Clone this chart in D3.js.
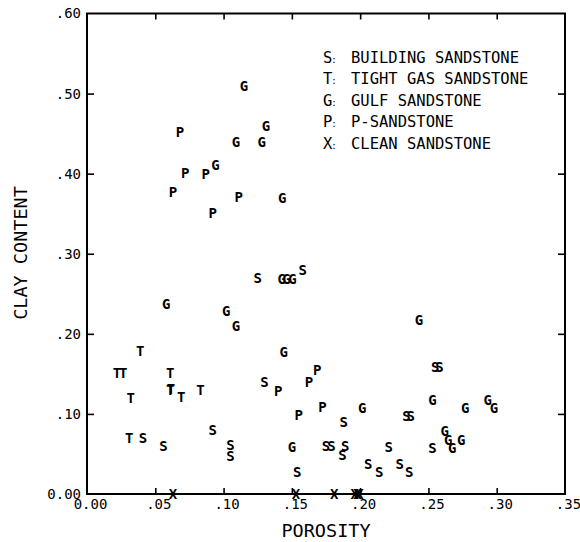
<!DOCTYPE html>
<html>
<head>
<meta charset="utf-8">
<script src="https://cdn.jsdelivr.net/npm/d3@7/dist/d3.min.js"></script>
<style>
  html, body { margin: 0; padding: 0; background: #fff; }
  svg { display: block; }
  text { font-family: "DejaVu Sans Mono", monospace; fill: #000; }
</style>
</head>
<body>
<svg id="chart" width="580" height="542"></svg>
<script>
// ---- Data (porosity, clay content) ----
const buildingSandstone = [
  [0.125, 0.270], [0.158, 0.280], [0.130, 0.140], [0.188, 0.090],
  [0.255, 0.159], [0.258, 0.159], [0.234, 0.098], [0.237, 0.098],
  [0.041, 0.070], [0.056, 0.060], [0.092, 0.080], [0.105, 0.061],
  [0.105, 0.048], [0.175, 0.060], [0.179, 0.060], [0.189, 0.060],
  [0.187, 0.049], [0.154, 0.028], [0.206, 0.038], [0.214, 0.028],
  [0.221, 0.059], [0.229, 0.038], [0.236, 0.027], [0.253, 0.058]
];
const tightGasSandstone = [
  [0.039, 0.179], [0.022, 0.151], [0.0265, 0.151], [0.061, 0.151],
  [0.061, 0.130], [0.0615, 0.131], [0.069, 0.121], [0.032, 0.120],
  [0.083, 0.130], [0.031, 0.070]
];
const gulfSandstone = [
  [0.115, 0.510], [0.131, 0.460], [0.109, 0.440], [0.128, 0.440],
  [0.094, 0.411], [0.143, 0.370], [0.1425, 0.268], [0.146, 0.268],
  [0.1505, 0.268], [0.058, 0.238], [0.102, 0.229], [0.109, 0.210],
  [0.144, 0.178], [0.243, 0.218], [0.2015, 0.108], [0.253, 0.118],
  [0.277, 0.107], [0.2935, 0.118], [0.298, 0.107], [0.262, 0.079],
  [0.2645, 0.068], [0.2675, 0.058], [0.274, 0.068], [0.150, 0.059]
];
const pSandstone = [
  [0.068, 0.452], [0.072, 0.401], [0.063, 0.377], [0.087, 0.400],
  [0.111, 0.371], [0.092, 0.351], [0.140, 0.129], [0.1625, 0.140],
  [0.1685, 0.155], [0.155, 0.099], [0.1725, 0.109]
];
const cleanSandstone = [
  [0.063, 0.0], [0.153, 0.0], [0.181, 0.0], [0.196, 0.0], [0.198, 0.0], [0.1995, 0.0]
];

const seriesSymbols = ["S", "T", "G", "P", "X"];
const seriesNames = ["BUILDING SANDSTONE", "TIGHT GAS SANDSTONE", "GULF SANDSTONE", "P-SANDSTONE", "CLEAN SANDSTONE"];
const seriesData = [buildingSandstone, tightGasSandstone, gulfSandstone, pSandstone, cleanSandstone];

const xTickValues = [0, 0.05, 0.10, 0.15, 0.20, 0.25, 0.30, 0.35];
const xTickLabels = ["0.00", ".05", ".10", ".15", ".20", ".25", ".30", ".35"];
const yTickValues = [0, 0.10, 0.20, 0.30, 0.40, 0.50, 0.60];
const yTickLabels = ["0.00", ".10", ".20", ".30", ".40", ".50", ".60"];

const xTitle = "POROSITY";
const yTitle = "CLAY CONTENT";

// ---- Layout ----
const plotL = 87, plotR = 565, plotT = 13.5, plotB = 494;
const svg = d3.select("#chart");

const x = d3.scaleLinear().domain([0, 0.35]).range([plotL, plotR]);
const y = d3.scaleLinear().domain([0, 0.60]).range([plotB, plotT]);

// Frame
svg.append("rect")
  .attr("x", plotL).attr("y", plotT)
  .attr("width", plotR - plotL).attr("height", plotB - plotT)
  .attr("fill", "none").attr("stroke", "#000").attr("stroke-width", 2);

function styleAxis(g) {
  g.select(".domain").remove();
  g.selectAll(".tick line").attr("stroke", "#000").attr("stroke-width", 1.6);
  g.selectAll(".tick text").attr("font-family", "DejaVu Sans Mono").attr("font-size", 14).attr("fill", "#000");
}

// Bottom axis
svg.append("g").attr("transform", `translate(0,${plotB})`)
  .call(d3.axisBottom(x).tickValues(xTickValues)
    .tickFormat((d, i) => xTickLabels[i]).tickSizeInner(-6).tickSizeOuter(0).tickPadding(5))
  .call(styleAxis)
  .call(g => g.selectAll(".tick text").attr("dx", 3))
  .call(g => g.selectAll(".tick").filter(d => d === 0 || d === 0.35).select("line").remove());

// Top axis (ticks only)
svg.append("g").attr("transform", `translate(0,${plotT})`)
  .call(d3.axisTop(x).tickValues(xTickValues.slice(1, -1)).tickFormat("").tickSizeInner(-6).tickSizeOuter(0))
  .call(styleAxis);

// Left axis
svg.append("g").attr("transform", `translate(${plotL},0)`)
  .call(d3.axisLeft(y).tickValues(yTickValues)
    .tickFormat((d, i) => yTickLabels[i]).tickSizeInner(-7).tickSizeOuter(0).tickPadding(6))
  .call(styleAxis)
  .call(g => g.selectAll(".tick").filter(d => d === 0 || d === 0.6).select("line").remove());

// Right axis (ticks only)
svg.append("g").attr("transform", `translate(${plotR},0)`)
  .call(d3.axisRight(y).tickValues(yTickValues.slice(1, -1)).tickFormat("").tickSizeInner(-7).tickSizeOuter(0))
  .call(styleAxis);

// Axis titles
svg.append("text")
  .attr("x", 326).attr("y", 537)
  .attr("text-anchor", "middle")
  .attr("font-size", 18.5)
  .text(xTitle);

svg.append("text")
  .attr("transform", `translate(27,253) rotate(-90)`)
  .attr("text-anchor", "middle")
  .attr("font-size", 18.5)
  .text(yTitle);

// Points as letters
const markerSize = 14;
seriesData.forEach((data, si) => {
  svg.append("g").selectAll("text")
    .data(data)
    .join("text")
    .attr("x", d => x(d[0]))
    .attr("y", d => y(d[1]) + markerSize * 0.365)
    .attr("text-anchor", "middle")
    .attr("font-size", markerSize)
    .attr("font-weight", "bold")
    .text(seriesSymbols[si]);
});

// Legend
const legendX = 323, legendTextX = 351, legendY0 = 62.5, legendStep = 21.6;
const legend = svg.append("g");
seriesNames.forEach((name, i) => {
  const t = legend.append("text")
    .attr("x", legendX).attr("y", legendY0 + i * legendStep)
    .attr("font-size", 15.5);
  t.append("tspan").text(seriesSymbols[i]);
  t.append("tspan").attr("font-size", 9).attr("dx", -1).text(":");
  legend.append("text")
    .attr("x", legendTextX).attr("y", legendY0 + i * legendStep)
    .attr("font-size", 15.5)
    .text(name);
});
</script>
</body>
</html>
